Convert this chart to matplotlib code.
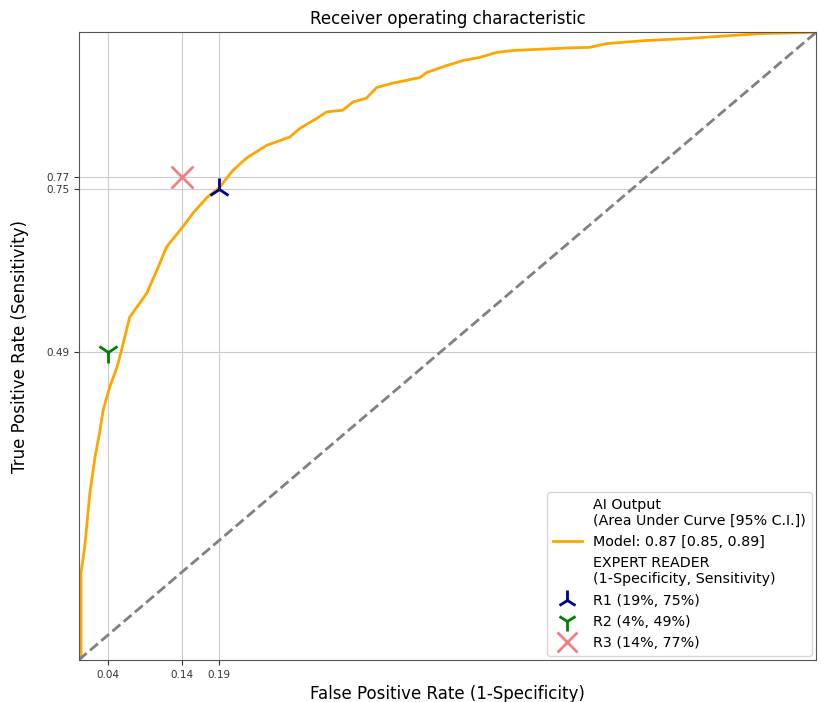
import numpy as np
import matplotlib
matplotlib.use("Agg")
import matplotlib.pyplot as plt
from matplotlib.lines import Line2D

# ROC curve
fpr = [0.0, 0.003, 0.003, 0.008, 0.015, 0.022, 0.028, 0.033, 0.042, 0.052, 0.058,
       0.069, 0.092, 0.106, 0.119, 0.141, 0.155, 0.174, 0.191, 0.209, 0.228, 0.255,
       0.286, 0.30, 0.323, 0.336, 0.358, 0.372, 0.39, 0.404, 0.426, 0.463, 0.472,
       0.499, 0.521, 0.544, 0.567, 0.589, 0.662, 0.693, 0.716, 0.771, 0.825, 0.887,
       0.928, 1.0]
tpr = [0.0, 0.003, 0.139, 0.18, 0.266, 0.323, 0.361, 0.398, 0.435, 0.467, 0.494,
       0.546, 0.584, 0.621, 0.658, 0.69, 0.712, 0.737, 0.753, 0.78, 0.80, 0.82,
       0.833, 0.847, 0.863, 0.873, 0.876, 0.889, 0.895, 0.912, 0.919, 0.928, 0.936,
       0.947, 0.955, 0.96, 0.968, 0.971, 0.975, 0.976, 0.982, 0.987, 0.99, 0.995,
       0.998, 1.0]

readers = ['R1 (19%, 75%)', 'R2 (4%, 49%)', 'R3 (14%, 77%)']
reader_fpr = [0.19, 0.04, 0.14]
reader_tpr = [0.75, 0.49, 0.77]
reader_markers = ['2', '1', 'x']
reader_colors = ['darkblue', 'green', 'lightcoral']

xticks = [0.04, 0.14, 0.19]
yticks = [0.49, 0.75, 0.77]

fig = plt.figure(figsize=(8.21, 7.02), dpi=100)
ax = fig.add_axes([0.096, 0.06, 0.898, 0.894])

ax.plot(fpr, tpr, color='orange', lw=2, label='Model: 0.87 [0.85, 0.89]')
ax.plot([0, 1], [0, 1], color='grey', lw=2, ls='--')

for name, x, y, m, c in zip(readers, reader_fpr, reader_tpr, reader_markers, reader_colors):
    ax.plot(x, y, ls='none', marker=m, color=c, markersize=16, mew=2, label=name)

ax.set_xlim(0, 1)
ax.set_ylim(0, 1)
ax.set_xticks(xticks)
ax.set_yticks(yticks)
ax.tick_params(labelsize=7.5, colors='#333333')
ax.grid(True, color='#cccccc')
for s in ax.spines.values():
    s.set_color('#555555')

ax.set_xlabel('False Positive Rate (1-Specificity)', fontsize=12)
ax.set_ylabel('True Positive Rate (Sensitivity)', fontsize=12, labelpad=12)
ax.set_title('Receiver operating characteristic', fontsize=12)

# legend with blank header rows
h, l = ax.get_legend_handles_labels()
blank = Line2D([], [], color='none')
handles = [blank, h[0], blank] + h[1:]
labels = ['AI Output\n(Area Under Curve [95% C.I.])', l[0],
          'EXPERT READER\n(1-Specificity, Sensitivity)'] + l[1:]
ax.legend(handles, labels, loc='lower right', fontsize=10.3, markerscale=0.9,
          borderaxespad=0.3, labelspacing=0.5)

fig.savefig('out.png', dpi=100)
